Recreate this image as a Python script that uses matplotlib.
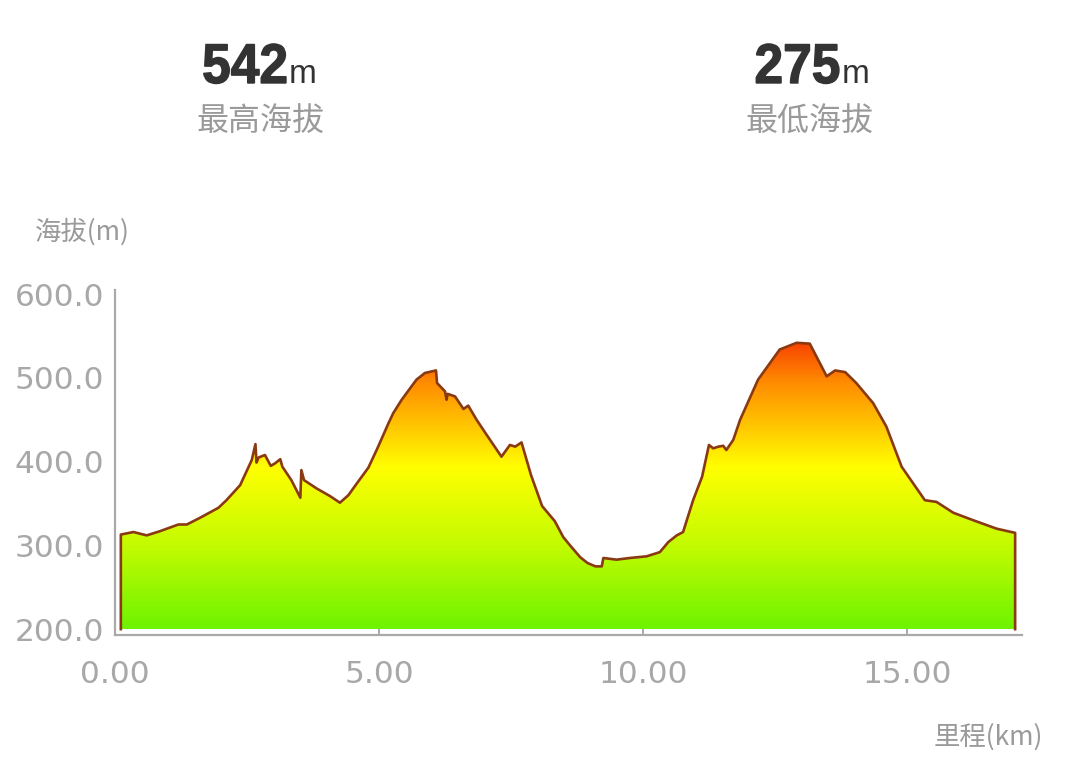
import numpy as np
import matplotlib
matplotlib.use("Agg")
import matplotlib.pyplot as plt
from matplotlib.colors import LinearSegmentedColormap
from matplotlib.textpath import TextPath
from matplotlib.patches import PathPatch
from matplotlib.font_manager import FontProperties
from matplotlib.transforms import Affine2D

plt.rcParams['font.family'] = ['Noto Sans CJK SC', 'DejaVu Sans']

# 里程 (km) / 海拔 (m)
dist_km = [0.11, 0.35, 0.60, 0.85, 1.20, 1.36, 1.61, 1.96, 2.11, 2.37,
           2.59, 2.66, 2.68, 2.72, 2.84, 2.95, 3.03, 3.13, 3.17, 3.34,
           3.51, 3.53, 3.58, 3.82, 4.07, 4.26, 4.42, 4.58, 4.80, 4.97,
           5.18, 5.27, 5.43, 5.71, 5.87, 6.08, 6.10, 6.25, 6.28, 6.30,
           6.44, 6.60, 6.69, 6.85, 7.04, 7.32, 7.48, 7.58, 7.70, 7.88,
           8.09, 8.33, 8.49, 8.62, 8.81, 8.95, 9.10, 9.22, 9.25, 9.50,
           9.75, 10.07, 10.32, 10.48, 10.64, 10.76, 10.95, 11.12, 11.25, 11.33,
           11.43, 11.52, 11.58, 11.71, 11.84, 12.18, 12.59, 12.91, 13.16, 13.48,
           13.64, 13.83, 14.04, 14.36, 14.61, 14.90, 15.34, 15.56, 15.88, 16.26,
           16.70, 17.05]
elev_m = [313, 316, 312, 317, 325, 325, 333, 345, 354, 372,
          402, 421, 399, 405, 408, 395, 398, 403, 394, 378,
          357, 390, 378, 368, 359, 351, 360, 374, 393, 416,
          446, 458, 474, 498, 506, 509, 494, 484, 474, 481,
          478, 463, 467, 450, 432, 406, 420, 418, 423, 384,
          347, 329, 310, 300, 286, 279, 275, 275, 285, 283,
          285, 287, 292, 304, 312, 316, 354, 382, 420, 416,
          418, 419, 414, 426, 450, 498, 534, 542, 541, 502,
          509, 507, 494, 470, 442, 394, 354, 352, 339, 330,
          320, 315]

y_ticks = [200, 300, 400, 500, 600]
x_ticks = [0, 5, 10, 15]
max_elev = 542
min_elev = 275

x = np.array(dist_km)
y = np.array(elev_m)
base = 200

fig = plt.figure(figsize=(10.8, 7.7), dpi=100)
ax = fig.add_axes([0.1065, 0.1753, 0.8398, 0.448])
ax.set_xlim(0, 17.18)
ax.set_ylim(193, 605)

# gradient by altitude
cmap = LinearSegmentedColormap.from_list("alt", [
    (0.0, "#6ef300"),
    (0.29, "#c4fb00"),
    (0.56, "#ffff00"),
    (0.72, "#ffc000"),
    (0.86, "#ff8a00"),
    (1.0, "#f84000"),
])
grad = np.linspace(base, 545, 300).reshape(-1, 1)
im = ax.imshow(grad, cmap=cmap, aspect="auto", origin="lower",
               extent=[0, 17.18, base, 545], zorder=1)
poly = ax.fill_between(x, y, base, color="none", lw=0)
im.set_clip_path(poly.get_paths()[0], transform=ax.transData)

# outline incl. vertical edges
ax.plot(np.r_[x[0], x, x[-1]], np.r_[base, y, base], color="#8a3a12", lw=1.9,
        zorder=3, solid_joinstyle="round")

for s in ["top", "right"]:
    ax.spines[s].set_visible(False)
for s in ["left", "bottom"]:
    ax.spines[s].set_color("#a9a9a9")
    ax.spines[s].set_linewidth(1.6)

ax.set_yticks(y_ticks)
ax.set_yticklabels([f"{v:.1f}" for v in y_ticks])
ax.set_xticks(x_ticks)
ax.set_xticklabels([f"{v:.2f}" for v in x_ticks])
ax.tick_params(axis="y", length=0, pad=8, labelsize=22.5, labelcolor="#a8a8a8",
               labelfontfamily="DejaVu Sans")
ax.tick_params(axis="x", direction="in", length=4, width=1.4, color="#a9a9a9",
               pad=18, labelsize=22.5, labelcolor="#a8a8a8",
               labelfontfamily="DejaVu Sans")

W, H = 1080, 770
def fx(px):
    return px / W
def fy(py):
    return 1 - py / H

# condensed bold numbers, drawn as paths squeezed horizontally
bold = FontProperties(family="Liberation Sans", weight="bold")
def big_number(txt, right_px, base_px):
    tp = TextPath((0, 0), txt, size=56, prop=bold)
    bb = tp.get_extents()
    sx = 0.92
    left = right_px - bb.x1 * sx
    tr = (Affine2D().scale(sx, 1).translate(left, H - base_px).scale(1 / 100)
          + fig.dpi_scale_trans)
    fig.add_artist(PathPatch(tp, transform=tr, facecolor="#333333",
                             edgecolor="#333333", lw=1.0))

# summary figures at top
big_number(str(max_elev), 286, 83)
fig.text(fx(289), fy(83), "m", ha="left", va="baseline", fontsize=24,
         color="#333333", family=["Liberation Sans", "DejaVu Sans"])
fig.text(fx(260), fy(121), "最高海拔", ha="center", va="center", fontsize=23,
         color="#9a9a9a")

big_number(str(min_elev), 839, 83)
fig.text(fx(842), fy(83), "m", ha="left", va="baseline", fontsize=24,
         color="#333333", family=["Liberation Sans", "DejaVu Sans"])
fig.text(fx(809), fy(122), "最低海拔", ha="center", va="center", fontsize=23,
         color="#9a9a9a")

fig.text(fx(35), fy(232), "海拔(m)", ha="left", va="center", fontsize=19,
         color="#9a9a9a")
fig.text(fx(1043), fy(737), "里程(km)", ha="right", va="center", fontsize=19,
         color="#9a9a9a")

fig.savefig("out.png", dpi=100)
